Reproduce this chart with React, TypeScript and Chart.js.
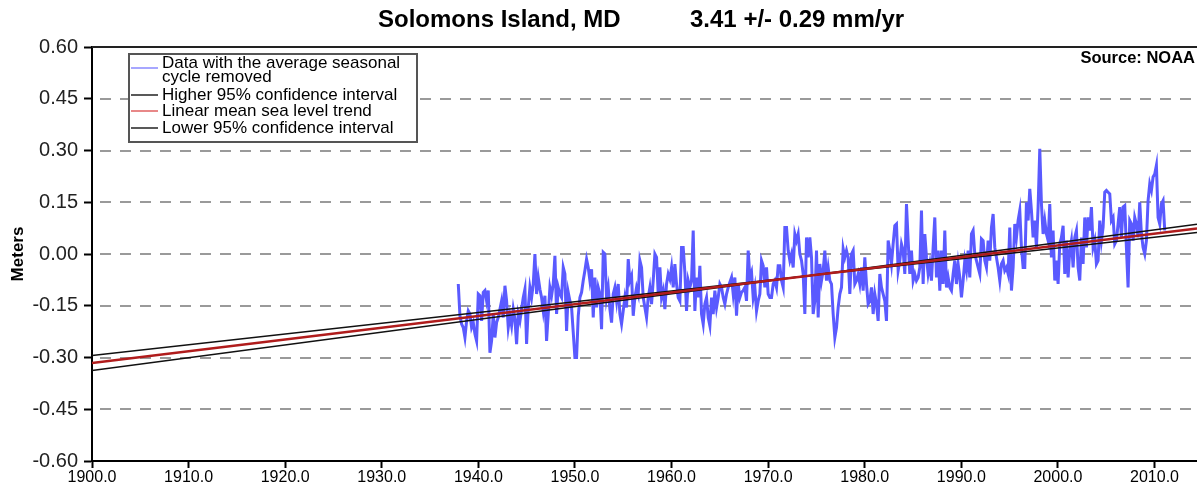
import React, { useEffect, useRef } from 'react';
import { Chart, registerables } from 'chart.js';

Chart.register(...registerables);

// ---- Data (meters), monthly-ish samples with the average seasonal cycle removed ----
const START_YEAR = 1937.92;
const STEP_YEARS = 0.1725;

const series1938to1949 = [
  -0.087, -0.179, -0.203, -0.213, -0.242, -0.194, -0.165, -0.174, -0.213, -0.199,
  -0.232, -0.252, -0.116, -0.121, -0.194, -0.111, -0.106, -0.136, -0.106, -0.286,
  -0.252, -0.174, -0.242, -0.199, -0.184, -0.160, -0.136, -0.184, -0.092, -0.136,
  -0.213, -0.179, -0.208, -0.160, -0.189, -0.261, -0.174, -0.194, -0.160, -0.126,
  -0.102, -0.261, -0.155, -0.097, -0.126, -0.087, 0.000, -0.116, -0.068, -0.102,
  -0.126, -0.165, -0.121, -0.252, -0.174, -0.097, -0.121, -0.087, -0.005, -0.174,
  -0.097, -0.116, -0.126, -0.039, -0.058, -0.223, -0.111,
];
const series1950to1961 = [
  -0.136, -0.155, -0.227, -0.300, -0.300, -0.180, -0.126, -0.111, -0.077, -0.048,
  -0.015, -0.039, -0.077, -0.044, -0.184, -0.068, -0.155, -0.097, -0.116, -0.218,
  0.005, 0.000, -0.126, -0.097, -0.160, -0.199, -0.116, -0.097, -0.136, -0.087,
  -0.174, -0.203, -0.165, -0.126, -0.155, -0.015, -0.077, -0.063, -0.179, -0.126,
  -0.097, -0.116, -0.019, -0.039, -0.126, -0.155, -0.184, -0.126, -0.097, -0.145,
  -0.077, 0.000, -0.010, -0.116, -0.039, -0.126, -0.106, -0.160, -0.087, -0.058,
  -0.073, -0.039, -0.097, -0.029, -0.087, -0.126, -0.136, 0.019, 0.019, -0.053,
  -0.165, -0.077,
];
const series1962to1974 = [
  -0.097, -0.077, 0.068, -0.165, -0.068, -0.126, -0.034, -0.174, -0.203, -0.145,
  -0.126, -0.184, -0.208, -0.126, -0.174, -0.106, -0.155, -0.126, -0.087, -0.097,
  -0.126, -0.145, -0.116, -0.097, -0.082, -0.068, -0.116, -0.068, -0.179, -0.087,
  -0.126, -0.111, -0.106, -0.097, -0.136, 0.010, -0.068, -0.053, -0.126, -0.097,
  -0.165, -0.136, -0.116, -0.019, -0.034, -0.097, -0.039, -0.116, -0.126, -0.126,
  -0.087, -0.077, -0.097, -0.034, -0.034, -0.077, -0.097, 0.077, 0.077, 0.010,
  -0.019, 0.000, -0.039, 0.058, 0.039, 0.058, 0.000, -0.019, -0.058, -0.174,
  0.048, -0.010,
];
const series1974to1986 = [
  0.048, -0.010, -0.174, -0.136, 0.010, -0.184, -0.029, -0.077, -0.048, 0.010,
  -0.077, -0.039, -0.077, -0.087, -0.174, -0.242, -0.213, -0.155, -0.116, -0.097,
  0.015, -0.010, 0.010, -0.010, -0.116, 0.000, 0.010, -0.087, -0.077, -0.058,
  -0.087, -0.039, -0.106, -0.010, -0.087, -0.145, -0.136, -0.097, -0.174, -0.116,
  -0.145, -0.194, -0.058, -0.097, -0.116, -0.136, -0.194, 0.039, 0.010, -0.029,
  0.029, 0.082, 0.087, -0.048, -0.019, 0.029, 0.010, -0.058, 0.145, 0.039,
  -0.058, 0.010, -0.077, -0.058, -0.077, -0.068, -0.039, 0.126, -0.087, 0.058,
  -0.010, -0.058,
];
const series1987to1999 = [
  -0.029, -0.077, 0.019, 0.106, -0.068, 0.010, -0.106, 0.010, -0.087, 0.068,
  -0.097, -0.068, -0.097, -0.106, -0.058, -0.019, -0.087, -0.029, -0.068, -0.126,
  -0.077, -0.019, -0.048, 0.010, -0.068, 0.058, 0.068, 0.000, -0.019, -0.039,
  -0.058, 0.044, 0.039, -0.019, -0.039, 0.039, -0.019, 0.077, 0.116, 0.019,
  -0.010, -0.039, -0.077, -0.029, -0.019, -0.048, -0.039, -0.058, 0.077, -0.106,
  -0.039, 0.087, 0.048, 0.097, 0.126, 0.019, -0.039, -0.039, 0.150, 0.097,
  0.189, 0.126, 0.048, 0.097, 0.019, 0.136, 0.305, 0.145, 0.058, 0.097,
  0.058, 0.039,
];
const series1999to2011 = [
  0.145, -0.010, 0.068, -0.077, -0.019, -0.087, 0.029, 0.048, 0.082, -0.058,
  0.039, -0.068, 0.010, 0.039, -0.039, 0.048, 0.068, -0.039, -0.077, 0.048,
  -0.029, 0.106, 0.019, 0.106, 0.068, 0.136, 0.019, 0.039, -0.029, -0.019,
  0.097, 0.039, 0.077, 0.179, 0.184, 0.179, 0.174, 0.097, 0.106, 0.029,
  0.039, 0.087, 0.136, 0.048, 0.136, 0.140, 0.019, -0.097, 0.097, 0.087,
  0.039, 0.106, 0.087, 0.048, 0.150, 0.058, 0.019, 0.000, 0.039, 0.155,
  0.203, 0.184, 0.223, 0.232, 0.257, 0.106, 0.087, 0.145, 0.155, 0.068,
];

// Linear trend and 95% confidence lines (end points)
const trendYears = [1900, 2014.4];
const trendValues = [-0.316, 0.074];
const higherCIValues = [-0.338, 0.086];
const lowerCIValues = [-0.294, 0.062];

// Axes
const X_MIN = 1900;
const X_MAX = 2014.4;
const xTickValues = [1900, 1910, 1920, 1930, 1940, 1950, 1960, 1970, 1980, 1990, 2000, 2010];
const yTickValues = [-0.6, -0.45, -0.3, -0.15, 0, 0.15, 0.3, 0.45, 0.6];

const titleLeft = 'Solomons Island, MD';
const titleRight = '3.41 +/- 0.29 mm/yr';
const sourceText = 'Source: NOAA';
const yAxisTitle = 'Meters';
const legendItems = [
  { label: ['Data with the average seasonal', 'cycle removed'], color: '#8a8aff' },
  { label: ['Higher 95% confidence interval'], color: '#222222' },
  { label: ['Linear mean sea level trend'], color: '#e06060' },
  { label: ['Lower 95% confidence interval'], color: '#222222' },
];

const FONT = '"Liberation Sans", Arial, Helvetica, sans-serif';

const decorPlugin = {
  id: 'decor',
  beforeDatasetsDraw(chart: any) {
    const { ctx, chartArea } = chart;
    const y = chart.scales.y;
    ctx.save();
    ctx.strokeStyle = '#9a9a9a';
    ctx.lineWidth = 2;
    ctx.setLineDash([11, 9]);
    yTickValues.forEach((v) => {
      if (Math.abs(v) >= 0.6 - 1e-9) return;
      const py = Math.round(y.getPixelForValue(v));
      ctx.beginPath();
      ctx.moveTo(chartArea.left + 8, py);
      ctx.lineTo(chartArea.right, py);
      ctx.stroke();
    });
    ctx.setLineDash([]);
    ctx.strokeStyle = '#222';
    ctx.lineWidth = 2;
    ctx.beginPath();
    ctx.moveTo(chartArea.left, chartArea.top);
    ctx.lineTo(chartArea.right, chartArea.top);
    ctx.stroke();
    ctx.restore();
  },
  afterDraw(chart: any) {
    const { ctx, chartArea } = chart;
    ctx.save();
    // Title
    ctx.fillStyle = '#000';
    ctx.font = `bold 24px ${FONT}`;
    ctx.textBaseline = 'alphabetic';
    ctx.textAlign = 'left';
    ctx.fillText(titleLeft, 378, 27);
    ctx.fillText(titleRight, 690, 27);
    // Source
    ctx.font = `bold 16.5px ${FONT}`;
    ctx.textAlign = 'right';
    ctx.textBaseline = 'middle';
    ctx.fillText(sourceText, chartArea.right - 2, 58);
    // Y axis title
    ctx.save();
    ctx.translate(18, (chartArea.top + chartArea.bottom) / 2);
    ctx.rotate(-Math.PI / 2);
    ctx.font = `bold 17px ${FONT}`;
    ctx.textAlign = 'center';
    ctx.textBaseline = 'middle';
    ctx.fillText(yAxisTitle, 0, 0);
    ctx.restore();
    // Legend box
    const bx = 129, by = 54, bw = 288, bh = 88;
    ctx.fillStyle = '#fff';
    ctx.fillRect(bx, by, bw, bh);
    ctx.strokeStyle = '#555';
    ctx.lineWidth = 2;
    ctx.strokeRect(bx, by, bw, bh);
    ctx.font = `17px ${FONT}`;
    ctx.textAlign = 'left';
    ctx.textBaseline = 'middle';
    const rows = [
      { sampleY: 68, textY: [63, 77] },
      { sampleY: 95, textY: [95] },
      { sampleY: 111, textY: [111] },
      { sampleY: 128, textY: [128] },
    ];
    legendItems.forEach((item, i) => {
      const r = rows[i];
      ctx.strokeStyle = item.color;
      ctx.lineWidth = 1.5;
      ctx.beginPath();
      ctx.moveTo(bx + 2, r.sampleY);
      ctx.lineTo(bx + 29, r.sampleY);
      ctx.stroke();
      ctx.fillStyle = '#000';
      item.label.forEach((t, j) => ctx.fillText(t, bx + 33, r.textY[j]));
    });
    ctx.restore();
  },
};

export default function App() {
  const canvasRef = useRef<HTMLCanvasElement | null>(null);

  useEffect(() => {
    document.body.style.margin = '0';
    const allValues = [
      ...series1938to1949,
      ...series1950to1961,
      ...series1962to1974,
      ...series1974to1986,
      ...series1987to1999,
      ...series1999to2011,
    ];
    const dataPoints = allValues.map((v, i) => ({ x: START_YEAR + i * STEP_YEARS, y: v }));
    const toPts = (vals: number[]) => trendYears.map((yr, i) => ({ x: yr, y: vals[i] }));

    const chart = new Chart(canvasRef.current as HTMLCanvasElement, {
      type: 'line',
      data: {
        datasets: [
          {
            label: 'Linear mean sea level trend',
            data: toPts(trendValues),
            borderColor: '#b01c1c',
            borderWidth: 2.5,
            pointRadius: 0,
          },
          {
            label: 'Higher 95% confidence interval',
            data: toPts(higherCIValues),
            borderColor: '#111',
            borderWidth: 1.5,
            pointRadius: 0,
          },
          {
            label: 'Lower 95% confidence interval',
            data: toPts(lowerCIValues),
            borderColor: '#111',
            borderWidth: 1.5,
            pointRadius: 0,
          },
          {
            label: 'Data with the average seasonal cycle removed',
            data: dataPoints,
            borderColor: '#5a5aff',
            borderWidth: 3,
            pointRadius: 0,
            tension: 0,
          },
        ],
      },
      options: {
        animation: false,
        responsive: true,
        maintainAspectRatio: false,
        layout: { padding: { top: 47, right: 0, bottom: 0, left: 0 } },
        plugins: {
          legend: { display: false },
          tooltip: { enabled: false },
          title: { display: false },
        },
        scales: {
          x: {
            type: 'linear',
            min: X_MIN,
            max: X_MAX,
            afterBuildTicks: (scale: any) => {
              scale.ticks = xTickValues.map((v) => ({ value: v }));
            },
            afterFit: (scale: any) => {
              scale.height = 25;
            },
            ticks: {
              autoSkip: false,
              maxRotation: 0,
              padding: 0,
              color: '#000',
              font: { family: FONT, size: 16 },
              callback: (v: any) => Number(v).toFixed(1),
            },
            grid: {
              drawOnChartArea: false,
              drawTicks: true,
              tickLength: 7,
              tickWidth: 2,
              tickColor: '#000',
            },
            border: { display: true, color: '#000', width: 2 },
          },
          y: {
            type: 'linear',
            min: -0.6,
            max: 0.6,
            afterBuildTicks: (scale: any) => {
              scale.ticks = yTickValues.map((v) => ({ value: v }));
            },
            afterFit: (scale: any) => {
              scale.width = 92;
            },
            ticks: {
              padding: 6,
              color: '#222',
              font: { family: FONT, size: 20 },
              callback: (v: any) => Number(v).toFixed(2),
            },
            grid: {
              drawOnChartArea: false,
              drawTicks: true,
              tickLength: 8,
              tickWidth: 2,
              tickColor: '#000',
            },
            border: { display: true, color: '#000', width: 2 },
          },
        },
      },
      plugins: [decorPlugin],
    });
    return () => chart.destroy();
  }, []);

  return (
    <div style={{ position: 'relative', width: '1197px', height: '486px' }}>
      <canvas ref={canvasRef} />
    </div>
  );
}
